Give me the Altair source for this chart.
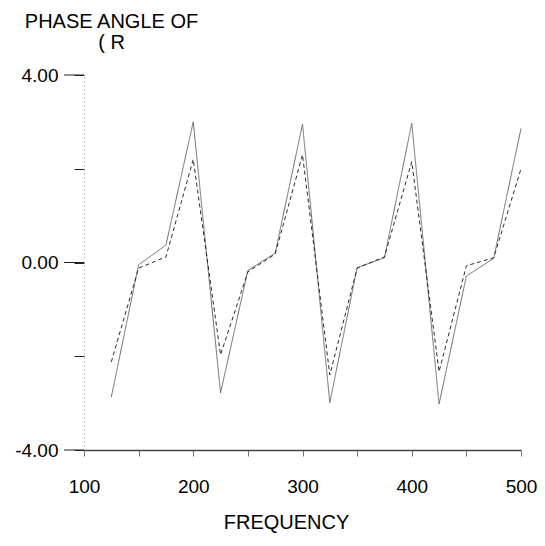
import altair as alt
import pandas as pd

# Frequencies of the plotted points
frequency = [125, 150, 175, 200, 225, 250, 275, 300, 325, 350, 375, 400, 425, 450, 475, 500]
# Solid curve (phase angle, rad)
phase_solid = [-2.87, -0.05, 0.37, 3.00, -2.78, -0.17, 0.20, 2.95,
               -2.99, -0.11, 0.10, 2.97, -3.02, -0.29, 0.09, 2.86]
# Dashed curve (phase angle, rad)
phase_dashed = [-2.12, -0.12, 0.12, 2.20, -1.97, -0.20, 0.18, 2.30,
                -2.40, -0.12, 0.12, 2.15, -2.33, -0.07, 0.10, 2.00]

x_ticks = [100, 150, 200, 250, 300, 350, 400, 450, 500]
y_ticks = [-4, -2, 0, 2, 4]
y_major = [-4, 0, 4]

series_names = ["solid", "dashed"]

rows = []
for name, vals in zip(series_names, [phase_solid, phase_dashed]):
    for f, v in zip(frequency, vals):
        rows.append({"freq": f, "phase": v, "series": name})
df = pd.DataFrame(rows)

FONT = "Liberation Sans"

x_scale = alt.Scale(domain=[100, 500], nice=False, zero=False)
y_scale = alt.Scale(domain=[-4, 4], nice=False, zero=False)

x_axis = alt.Axis(
    values=x_ticks,
    labelExpr="datum.value % 100 == 0 ? format(datum.value, 'd') : ''",
    grid=False,
    tickSize=6,
    tickColor="#777777",
    tickWidth=1,
    domainColor="#444444",
    domainWidth=1.5,
    labelFont=FONT,
    labelFontSize=19,
    labelColor="#000000",
    labelPadding=21,
    labelFlush=False,
    labelOverlap=False,
    title="FREQUENCY",
    titleFont=FONT,
    titleFontSize=20,
    titleFontWeight="normal",
    titleColor="#000000",
    titleX=202,
    titleY=78,
    titleAlign="center",
    titleBaseline="alphabetic",
)

y_axis = alt.Axis(
    values=y_ticks,
    labelExpr="datum.value % 4 == 0 ? replace(format(datum.value, '.2f'), '\u2212', '-') : ''",
    grid=False,
    tickSize=10,
    tickColor="#222222",
    tickWidth=1,
    domainColor="#888888",
    domainDash=[1, 3],
    domainWidth=1,
    labelFont=FONT,
    labelFontSize=19,
    labelColor="#000000",
    labelPadding=16,
    labelFlush=False,
    labelOverlap=False,
    title=["PHASE ANGLE OF", "( R"],
    titleFont=FONT,
    titleFontSize=20,
    titleFontWeight="normal",
    titleColor="#000000",
    titleAngle=0,
    titleX=27,
    titleY=-48,
    titleAlign="center",
    titleBaseline="alphabetic",
    titleLineHeight=21,
)

lines = alt.Chart(df).mark_line(strokeWidth=1).encode(
    x=alt.X("freq:Q", scale=x_scale, axis=x_axis),
    y=alt.Y("phase:Q", scale=y_scale, axis=y_axis),
    color=alt.Color("series:N", scale=alt.Scale(domain=series_names, range=["#6a6a6a", "#2a2a2a"]), legend=None),
    strokeDash=alt.StrokeDash("series:N", scale=alt.Scale(domain=series_names, range=[[1, 0], [4, 3]]), legend=None),
    detail="series:N",
)

major_ticks = alt.Chart(pd.DataFrame({"v": y_major})).mark_rule(color="#222222", strokeWidth=1).encode(
    y=alt.Y("v:Q", scale=y_scale),
    x=alt.value(-20),
    x2=alt.value(0),
)

chart = alt.layer(major_ticks, lines).properties(
    width=437,
    height=375,
    autosize=alt.AutoSizeParams(type="none"),
    padding={"left": 84, "top": 75, "right": 24, "bottom": 96},
    background="#ffffff",
).configure_view(stroke=None)

chart.save("out.html", embed_options={"renderer": "svg", "actions": False})
